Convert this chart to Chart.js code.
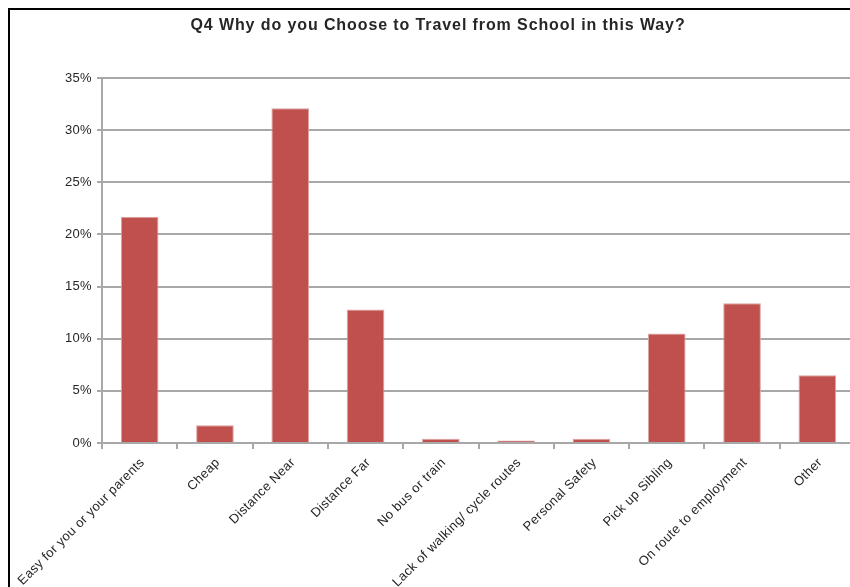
<!DOCTYPE html>
<html lang="en">
<head>
<meta charset="UTF-8">
<title>Q4 Why do you Choose to Travel from School in this Way?</title>
<script src="https://cdn.jsdelivr.net/npm/chart.js"></script>
<style>
    html, body {
        margin: 0;
        padding: 0;
        background: #fff;
        overflow: hidden;
    }
    .frame {
        position: absolute;
        left: 8px;
        top: 8px;
        width: 856px;
        height: 600px;
        border: 2px solid #000;
    }
    .frame canvas {
        display: block;
    }
</style>
</head>
<body>
<div class="frame">
    <canvas id="reasonChart" width="856" height="600"></canvas>
</div>
<script>
const chartTitle = 'Q4 Why do you Choose to Travel from School in this Way?';

const categories = [
    'Easy for you or your parents',
    'Cheap',
    'Distance Near',
    'Distance Far',
    'No bus or train',
    'Lack of walking/ cycle routes',
    'Personal Safety',
    'Pick up Sibling',
    'On route to employment',
    'Other'
];

// percent of responses
const responses = [21.7, 1.7, 32.1, 12.8, 0.4, 0.25, 0.4, 10.5, 13.4, 6.5];

const yTicks = [0, 5, 10, 15, 20, 25, 30, 35];

const textColor = '#262626';
const gridColor = '#a8a8a8';
const font = 'Liberation Sans, Arial, sans-serif';

// the old chart has slightly spaced out lettering, Chart.js has no option for it
const spacedText = {
    id: 'spacedText',
    beforeUpdate(chart) {
        chart.ctx.letterSpacing = '0.35px';
    },
    beforeDraw(chart) {
        chart.ctx.letterSpacing = '0.35px';
    },
    afterDraw(chart) {
        const c = chart.ctx;
        c.save();
        c.letterSpacing = '0.9px';
        c.font = 'bold 16px ' + font;
        c.fillStyle = textColor;
        c.textAlign = 'center';
        c.textBaseline = 'middle';
        c.fillText(chartTitle, chart.width / 2, 15.5);
        c.restore();
    }
};

const ctx = document.getElementById('reasonChart').getContext('2d');
const reasonChart = new Chart(ctx, {
    type: 'bar',
    data: {
        labels: categories,
        datasets: [{
            label: 'Responses',
            data: responses,
            backgroundColor: '#c0504d',
            borderColor: '#dca4a2',
            borderWidth: 1,
            borderSkipped: 'bottom',
            barPercentage: 0.5,
            categoryPercentage: 1.0
        }]
    },
    options: {
        responsive: false,
        animation: false,
        events: [],
        layout: {
            padding: { top: 68, right: 11, bottom: 0, left: 0 }
        },
        plugins: {
            legend: { display: false },
            tooltip: { enabled: false },
            title: { display: false }
        },
        scales: {
            x: {
                grid: {
                    display: true,
                    drawOnChartArea: false,
                    drawTicks: true,
                    tickLength: 6,
                    color: gridColor,
                    lineWidth: 2
                },
                border: { display: true, color: gridColor, width: 2 },
                ticks: {
                    color: textColor,
                    font: { family: font, size: 13 },
                    minRotation: 45,
                    maxRotation: 45,
                    autoSkip: false,
                    padding: 6,
                    labelOffset: 3
                },
                afterFit: (scale) => {
                    scale.height = 167;
                    // long first label may hang past the y axis, like in the original
                    scale.paddingLeft = 0;
                    scale.paddingRight = 0;
                }
            },
            y: {
                min: 0,
                max: 35,
                afterBuildTicks: (scale) => {
                    scale.ticks = yTicks.map(v => ({ value: v }));
                },
                grid: {
                    color: gridColor,
                    lineWidth: 2,
                    drawTicks: true,
                    tickLength: 5
                },
                border: { display: true, color: gridColor, width: 2 },
                ticks: {
                    color: textColor,
                    font: { family: font, size: 13 },
                    padding: 5,
                    callback: (v) => v + '%'
                },
                afterFit: (scale) => { scale.width = 92; }
            }
        }
    },
    plugins: [spacedText]
});
</script>
</body>
</html>
